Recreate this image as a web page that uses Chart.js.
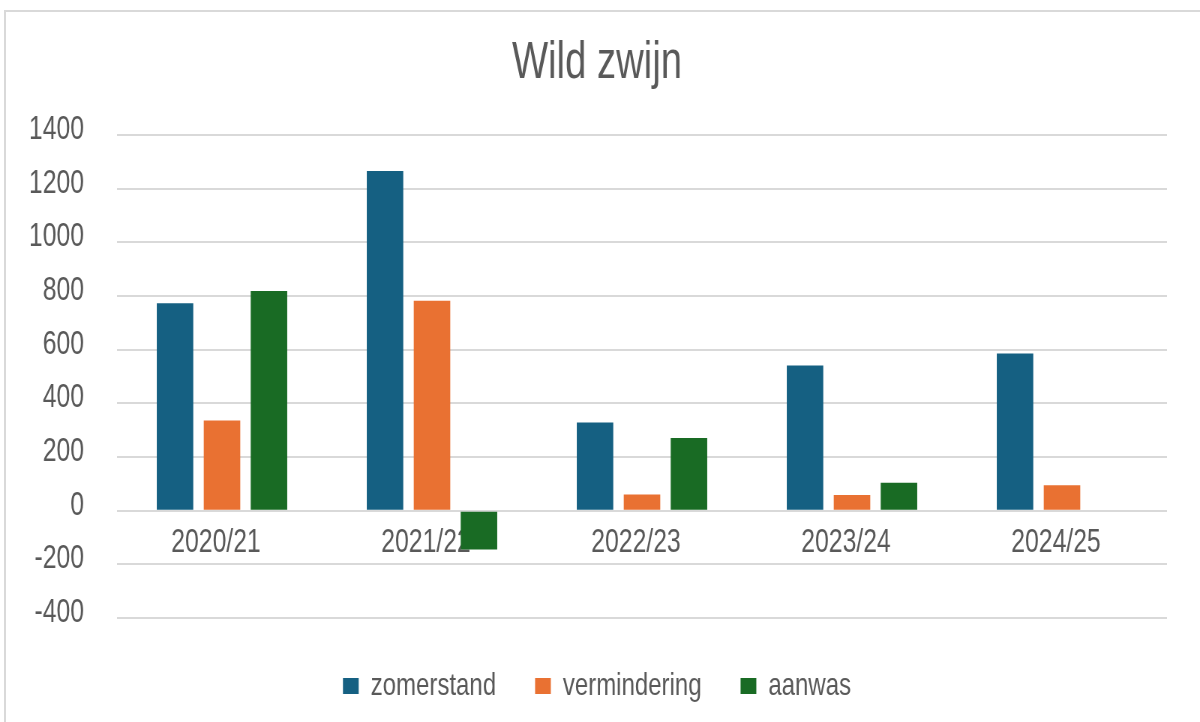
<!DOCTYPE html>
<html>
<head>
<meta charset="utf-8">
<script src="https://cdn.jsdelivr.net/npm/chart.js@4/dist/chart.umd.min.js"></script>
<style>
  html, body { margin: 0; padding: 0; background: #ffffff; overflow: hidden; width: 1200px; height: 722px; }
  #frame { position: absolute; left: 4px; top: 10px; width: 1300px; height: 800px; border: 2px solid #d9d9d9; box-sizing: border-box; }
  #wrap { position: absolute; left: 0; top: 0; width: 1600px; height: 722px; transform: scaleX(0.75); transform-origin: 0 0; }
</style>
</head>
<body>
<div id="frame"></div>
<div id="wrap"><canvas id="c" width="1600" height="722"></canvas></div>
<script>
const categories = ['2020/21', '2021/22', '2022/23', '2023/24', '2024/25'];
const zomerstand = [773, 1266, 329, 541, 586];
const vermindering = [336, 782, 60, 58, 95];
const aanwas = [819, -145, 271, 104, null];
const seriesNames = ['zomerstand', 'vermindering', 'aanwas'];
const seriesColors = ['#156082', '#E97132', '#196B24'];
const yMin = -400, yMax = 1400, yStep = 200;
const titleText = 'Wild zwijn';

const textColor = '#595959';
const fontFamily = '"Liberation Sans", Arial, sans-serif';

new Chart(document.getElementById('c'), {
  type: 'bar',
  data: {
    labels: categories,
    datasets: [zomerstand, vermindering, aanwas].map((vals, i) => ({
      label: seriesNames[i],
      data: vals,
      backgroundColor: seriesColors[i],
      borderWidth: 0,
      categoryPercentage: 0.671,
      barPercentage: 0.777
    }))
  },
  options: {
    responsive: false,
    animation: false,
    devicePixelRatio: 1,
    layout: { padding: { left: 36, right: 44, top: 0, bottom: 10 } },
    plugins: {
      title: {
        display: true,
        text: titleText,
        color: textColor,
        font: { family: fontFamily, size: 51, weight: 'normal', lineHeight: 1.2 },
        padding: { top: 33, bottom: 40.8 }
      },
      legend: {
        position: 'bottom',
        labels: {
          color: textColor,
          font: { family: fontFamily, size: 32 },
          boxWidth: 21,
          boxHeight: 16,
          padding: 52
        }
      },
      tooltip: { enabled: false }
    },
    scales: {
      x: {
        position: { y: 0 },
        grid: { display: false, drawTicks: false },
        border: { display: false },
        ticks: {
          color: textColor,
          font: { family: fontFamily, size: 33 },
          padding: 12,
          labelOffset: -8,
          maxRotation: 0,
          autoSkip: false
        }
      },
      y: {
        min: yMin,
        max: yMax,
        afterFit: (scale) => { scale.width = 120; },
        grid: { color: '#d9d9d9', lineWidth: 2, drawTicks: false },
        border: { display: false },
        ticks: {
          stepSize: yStep,
          color: textColor,
          font: { family: fontFamily, size: 33 },
          padding: 44,
          labelOffset: -5,
          callback: (v) => String(v)
        }
      }
    }
  }
});
</script>
</body>
</html>
